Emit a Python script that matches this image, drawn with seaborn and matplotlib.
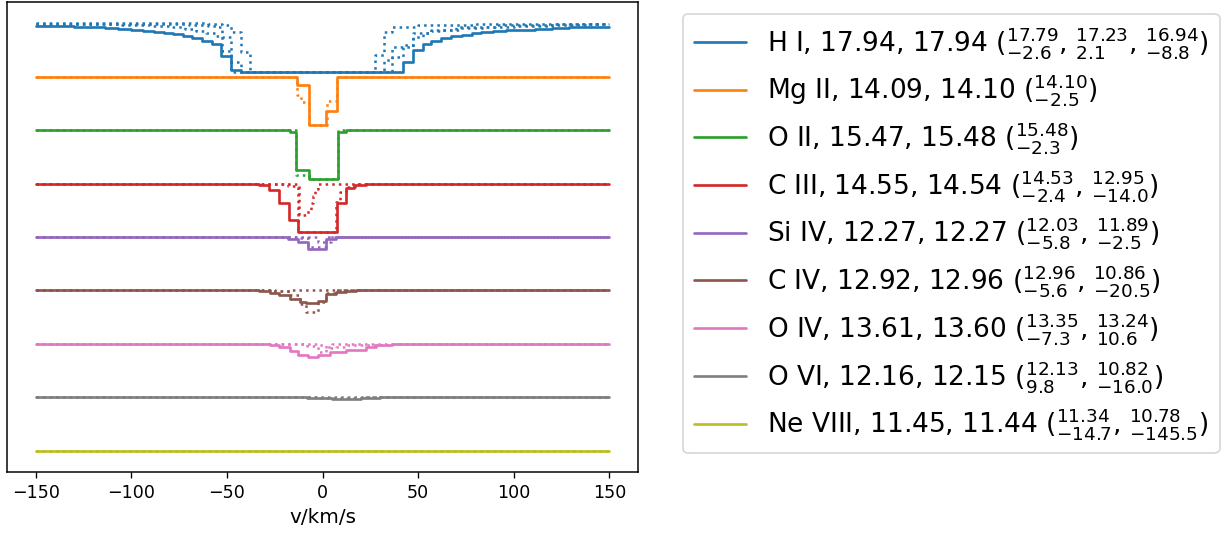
import numpy as np
import pandas as pd
import matplotlib
matplotlib.use("Agg")
import matplotlib.pyplot as plt
import seaborn as sns

# ---------------- data (velocity step edges in km/s, normalised flux) ----------------
VMAX = 150.0
OFFSET = 1.1

ions = ["H I", "Mg II", "O II", "C III", "Si IV", "C IV", "O IV", "O VI", "Ne VIII"]
logN_total = ["17.94", "14.09", "15.47", "14.55", "12.27", "12.92", "13.61", "12.16", "11.45"]
logN_fit = ["17.94", "14.10", "15.48", "14.54", "12.27", "12.96", "13.60", "12.15", "11.44"]
comp_logN = [["17.79", "17.23", "16.94"], ["14.10"], ["15.48"], ["14.53", "12.95"],
             ["12.03", "11.89"], ["12.96", "10.86"], ["13.35", "13.24"],
             ["12.13", "10.82"], ["11.34", "10.78"]]
comp_v = [["-2.6", "2.1", "-8.8"], ["-2.5"], ["-2.3"], ["-2.4", "-14.0"],
          ["-5.8", "-2.5"], ["-5.6", "-20.5"], ["-7.3", "10.6"],
          ["9.8", "-16.0"], ["-14.7", "-145.5"]]

# total (solid) profiles
HI_v = [-150, -140, -130, -122, -114, -107, -100, -94, -88, -83, -78, -73, -68, -63, -58, -53,
        -47.8, -42.5, 42.0, 47.3, 52.3, 57.0, 62.0, 67.4, 72.7, 78.0, 83.0, 89.0, 96.0, 103.0,
        111.0, 120.0, 129.0, 138.0, 145.0]
HI_f = [0.945, 0.94, 0.93, 0.915, 0.9, 0.885, 0.865, 0.85, 0.825, 0.8, 0.775, 0.745, 0.7, 0.645,
        0.57, 0.335, 0.04, 0.0, 0.2, 0.45, 0.575, 0.645, 0.69, 0.735, 0.77, 0.80, 0.82, 0.835,
        0.855, 0.87, 0.885, 0.9, 0.915, 0.925, 0.935]
MgII_v = [-150, -13.4, -7.3, 1.9, 7.7]
MgII_f = [1.0, 0.825, 0.015, 0.29, 1.0]
OII_v = [-150, -17.2, -13.8, -7.2, 8.0, 12.4]
OII_f = [1.0, 0.97, 0.19, 0.0, 0.965, 1.0]
CIII_v = [-150, -33, -28, -22.5, -17.6, -12.9, 7.5, 12.4, 16.7, 22.8]
CIII_f = [1.0, 0.965, 0.86, 0.59, 0.245, 0.0, 0.59, 0.9, 0.965, 1.0]
SiIV_v = [-150, -18, -12.9, -7.7, 1.9, 7.2]
SiIV_f = [1.0, 0.965, 0.9, 0.75, 0.965, 1.0]
CIV_v = [-150, -33, -27.7, -22.5, -17.2, -12.0, -8.5, -2.4, 1.9, 7.2, 12.4, 17.4]
CIV_f = [1.0, 0.98, 0.95, 0.9, 0.83, 0.76, 0.74, 0.79, 0.93, 0.965, 0.98, 1.0]
OIV_v = [-150, -27.7, -22.5, -17.2, -12.9, -7.7, -2.4, 3.7, 12.4, 22.8, 28.0, 36.6]
OIV_f = [1.0, 0.98, 0.93, 0.85, 0.76, 0.72, 0.78, 0.83, 0.88, 0.93, 0.97, 1.0]
OVI_v = [-150, -8, 5, 20, 30]
OVI_f = [1.0, 0.985, 0.97, 0.98, 1.0]
NeVIII_v = [-150]
NeVIII_f = [1.0]

# component (dotted) profiles
HI_c1_v = [-150, -125, -105, -90, -80, -72, -66, -61, -56, -52.8, -47.8, 36.6, 42.0, 47.3,
           52.3, 57.0, 62.0, 72.0, 85.0, 100.0, 120.0, 140.0]
HI_c1_f = [0.99, 0.98, 0.965, 0.945, 0.92, 0.89, 0.85, 0.8, 0.74, 0.44, 0.0, 0.3, 0.55, 0.72,
           0.8, 0.84, 0.87, 0.9, 0.93, 0.955, 0.975, 0.99]
HI_c2_v = [-150, -90, -70, -60, -55, -52.8, -47.8, -42.5, 32.4, 36.6, 47.3, 57.0, 70.0, 90.0, 120.0]
HI_c2_f = [0.995, 0.985, 0.97, 0.95, 0.92, 0.71, 0.2, 0.0, 0.25, 0.52, 0.8, 0.86, 0.92, 0.96, 0.985]
HI_c3_v = [-150, -60, -52.8, -47.8, -42.5, -37.8, 27.2, 32.4, 36.6, 50.0, 80.0, 120.0]
HI_c3_f = [1.0, 0.99, 0.96, 0.82, 0.4, 0.0, 0.35, 0.83, 0.93, 0.96, 0.98, 0.995]
MgII_c1_v = [-150, -13.4, -11.5, -7.3, 2.5, 7.7]
MgII_c1_f = [1.0, 0.63, 0.48, 0.015, 0.5, 1.0]
OII_c1_v = [-150, -13.8, -7.2, 8.0]
OII_c1_f = [1.0, 0.07, 0.0, 1.0]
CIII_c1_v = [-150, -33, -18, -12.9, 7.2, 9.0, 12.4, 17.0]
CIII_c1_f = [1.0, 0.985, 0.95, 0.0, 0.62, 0.83, 0.93, 1.0]
CIII_c2_v = [-150, -12.5, -7.5, -6.2, -5.0, -3.8, -2.5]
CIII_c2_f = [1.0, 0.35, 0.45, 0.6, 0.75, 0.88, 1.0]
SiIV_c1_v = [-150, -12.9, -7.7, 1.9]
SiIV_c1_f = [1.0, 0.97, 0.8, 1.0]
SiIV_c2_v = [-150, -2.4, 4.5]
SiIV_c2_f = [1.0, 0.9, 1.0]
CIV_c1_v = [-150, -27.7, -17.2, -12.0, -8.5, -2.4, 1.9, 7.2]
CIV_c1_f = [1.0, 0.985, 0.9, 0.71, 0.56, 0.77, 0.95, 1.0]
CIV_c2_v = [-150, -25, -16]
CIV_c2_f = [1.0, 0.99, 1.0]
OIV_c1_v = [-150, -22, -8, -2.4, 1.9, 5.0]
OIV_c1_f = [1.0, 0.99, 0.96, 0.84, 0.93, 1.0]
OIV_c2_v = [-150, -2.4, 1.9, 7.2, 12.4, 35]
OIV_c2_f = [1.0, 0.97, 0.91, 0.93, 0.985, 1.0]
OVI_c1_v = [-150, -3, 22]
OVI_c1_f = [1.0, 0.98, 1.0]
OVI_c2_v = [-150]
OVI_c2_f = [1.0]
NeVIII_c1_v = [-150]
NeVIII_c1_f = [1.0]
NeVIII_c2_v = [-150]
NeVIII_c2_f = [1.0]

totals = [(HI_v, HI_f), (MgII_v, MgII_f), (OII_v, OII_f), (CIII_v, CIII_f), (SiIV_v, SiIV_f),
          (CIV_v, CIV_f), (OIV_v, OIV_f), (OVI_v, OVI_f), (NeVIII_v, NeVIII_f)]
components = [[(HI_c1_v, HI_c1_f), (HI_c2_v, HI_c2_f), (HI_c3_v, HI_c3_f)],
              [(MgII_c1_v, MgII_c1_f)],
              [(OII_c1_v, OII_c1_f)],
              [(CIII_c1_v, CIII_c1_f), (CIII_c2_v, CIII_c2_f)],
              [(SiIV_c1_v, SiIV_c1_f), (SiIV_c2_v, SiIV_c2_f)],
              [(CIV_c1_v, CIV_c1_f), (CIV_c2_v, CIV_c2_f)],
              [(OIV_c1_v, OIV_c1_f), (OIV_c2_v, OIV_c2_f)],
              [(OVI_c1_v, OVI_c1_f), (OVI_c2_v, OVI_c2_f)],
              [(NeVIII_c1_v, NeVIII_c1_f), (NeVIII_c2_v, NeVIII_c2_f)]]


def step_frame(v, f, shift):
    x = list(v) + [VMAX]
    y = [val - shift for val in f] + [f[-1] - shift]
    return pd.DataFrame({"v": x, "flux": y})


def make_label(i):
    parts = [r"$^{%s}_{%s}$" % (n, vv) for n, vv in zip(comp_logN[i], comp_v[i])]
    return "%s, %s, %s (%s)" % (ions[i], logN_total[i], logN_fit[i], ", ".join(parts))


# ---------------- figure ----------------
sns.set_style("ticks", {"text.color": "black", "axes.labelcolor": "black",
                        "xtick.color": "black", "ytick.color": "black",
                        "axes.edgecolor": "black"})
plt.rcParams["font.family"] = ["DejaVu Sans"]
W, H, DPI = 1231, 533, 120
fig = plt.figure(figsize=(W / DPI, H / DPI), dpi=DPI)
ax = fig.add_axes([7 / W, 1 - 472 / H, 631 / W, 470 / H])

colors = sns.color_palette("tab10", 10)

for i in range(len(ions)):
    col = colors[i]
    shift = OFFSET * i
    for (cv, cf) in components[i]:
        d = step_frame(cv, cf, shift)
        sns.lineplot(data=d, x="v", y="flux", ax=ax, color=col, linestyle=":",
                     linewidth=1.5, drawstyle="steps-post", estimator=None,
                     sort=False, legend=False)
    tv, tf = totals[i]
    d = step_frame(tv, tf, shift)
    sns.lineplot(data=d, x="v", y="flux", ax=ax, color=col, linewidth=1.6,
                 drawstyle="steps-post", estimator=None, sort=False,
                 label=make_label(i))

ax.set_xlim(-165, 165)
ax.set_ylim(-7.8 - 0.44, 1.0 + 0.44)
ax.set_yticks([])
ax.set_ylabel("")
ax.set_xlabel("v/km/s", fontsize=12, color="black")
ax.set_xticks([-150, -100, -50, 0, 50, 100, 150])
ax.tick_params(axis="x", labelsize=10.5, direction="out", length=3.5,
               colors="black", labelcolor="black")
for s in ax.spines.values():
    s.set_linewidth(0.9)
    s.set_color("black")

handles, labels = ax.get_legend_handles_labels()
leg = ax.legend(handles, labels, loc="upper left",
                bbox_to_anchor=(683 / W, 1 - 14 / H), bbox_transform=fig.transFigure,
                fontsize=15.8, labelspacing=0.445, frameon=True, borderaxespad=0)
leg.get_frame().set_edgecolor("#cccccc")
for t in leg.get_texts():
    t.set_color("black")

fig.savefig("out.png", dpi=DPI)
